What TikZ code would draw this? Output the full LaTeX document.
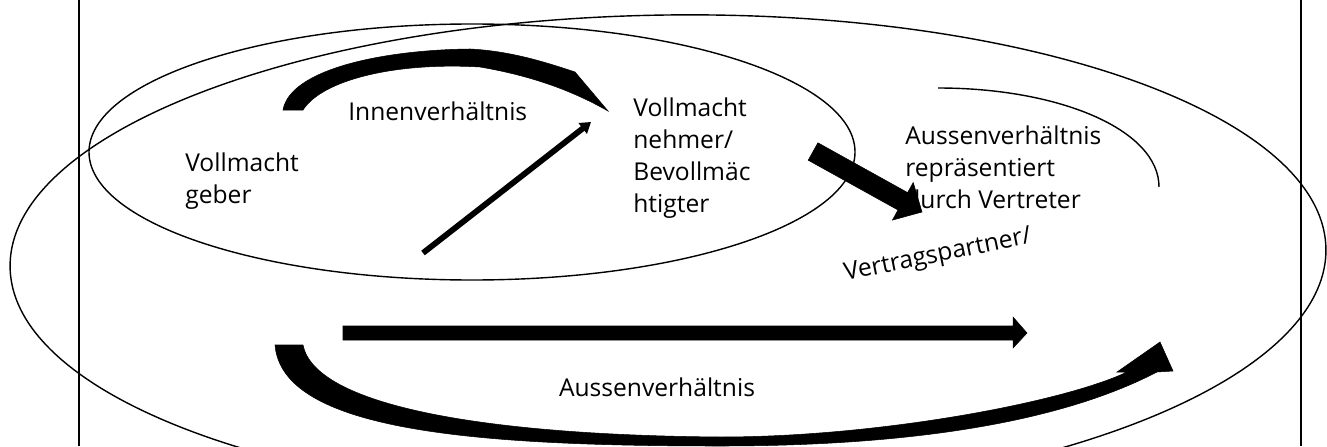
\documentclass[tikz,border=0pt]{standalone}
\usepackage{fontspec}
\setmainfont{Open Sans}
\usetikzlibrary{arrows.meta}

\tikzset{
  lbl/.style={inner sep=0pt, align=left, anchor=west, font=\fontsize{14}{18.2}\selectfont},
  ring/.style={draw, line width=0.8pt},
  blockarrow/.style={fill=black, draw=black, line width=0.3pt, line join=miter},
}

\begin{document}
\begin{tikzpicture}[x=0.02cm, y=-0.02cm]
  \useasboundingbox (0,0) rectangle (1327,446);

  % Frame lines
  \draw[line width=0.9pt] (79,0) -- (79,446);
  \draw[line width=0.9pt] (1301,0) -- (1301,446);

  % Ellipses
  \draw[ring, rotate around={0.8:(668,258)}] (668,258) ellipse [x radius=658, y radius=243];
  \draw[ring] (472,152) ellipse [x radius=383, y radius=128];
  \draw[ring] (938,88) .. controls (1060,88) and (1159,130) .. (1159,187);

  % Nodes
  \node[lbl] (geber) at (185,181) {Vollmacht\\geber};
  \node[lbl] (innen) at (348,111) {Innenverhältnis};
  \node[lbl] (nehmer) at (633,158) {Vollmacht\\nehmer/\\Bevollmäc\\htigter};
  \node[lbl] (vertreter) at (905,167) {Aussenverhältnis\\repräsentiert\\durch Vertreter};
  \node[lbl, anchor=center, rotate=11.5] (partner) at (938,256) {Vertragspartner/};
  \node[lbl, anchor=center] (aussen) at (657,387) {Aussenverhältnis};

  % Connections
  \fill[blockarrow] (283,110) .. controls (290,70) and (380,50) .. (470,49)
    .. controls (510,51) and (545,62) .. (575,72) -- (608,111)
    .. controls (585,98) and (545,78) .. (480,67)
    .. controls (395,62) and (322,80) .. (303,110) -- cycle;
  \coordinate (linkfrom) at (423,253);
  \coordinate (linkto) at (591,122);
  \draw[line width=3.3pt, -{Triangle[length=6pt,width=7.5pt]}] (linkfrom) -- (linkto);
  \fill[blockarrow] (817.9,142.8) -- (907.6,192.6) -- (913.2,182.5) -- (922,212)
    -- (892.4,220.1) -- (898.0,210.0) -- (808.2,160.2) -- cycle;
  \fill[blockarrow] (343,326) -- (1013,326) -- (1013,317) -- (1027,333)
    -- (1013,348) -- (1013,340) -- (343,340) -- cycle;
  \fill[blockarrow] (275,345) .. controls (282,430) and (470,446) .. (720,446)
    .. controls (900,446) and (1055,425) .. (1157,372) -- (1173,371) -- (1160,342)
    -- (1117,372) -- (1127,372)
    .. controls (1064,402) and (880,437) .. (720,437)
    .. controls (480,435) and (315,405) .. (303,345) -- cycle;
\end{tikzpicture}
\end{document}
